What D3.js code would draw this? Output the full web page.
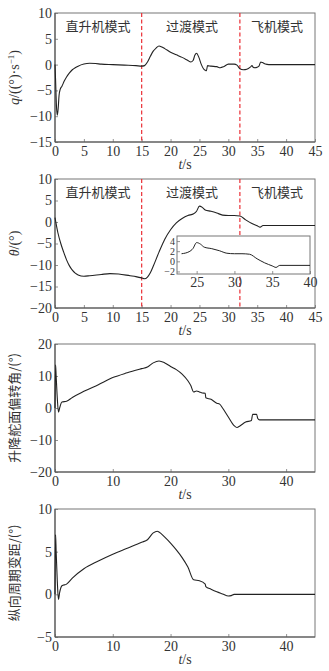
<!DOCTYPE html>
<html><head><meta charset="utf-8">
<script src="https://cdn.jsdelivr.net/npm/d3@7"></script>
<style>
html,body{margin:0;padding:0;background:#fff;}
svg{display:block;}
</style></head>
<body>
<svg id="c" width="329" height="671"></svg>
<script>
// ---- data ----
const modeLabels = ["直升机模式", "过渡模式", "飞机模式"];
const modeBounds = [15, 32];

const tQ = [0,0.1,0.25,0.4,0.55,0.7,0.9,1.2,1.6,2,2.5,3,3.5,4,5,6,7,8,10,12,14,15,15.5,16,16.5,17,17.5,18,18.5,19,20,21,22,23,23.5,23.9,24.2,24.5,24.9,25.3,25.7,26,26.2,26.4,27,28,28.6,29.2,30,31,31.5,32,32.6,33.2,33.8,34.1,34.3,34.6,35,35.3,35.6,35.9,36.4,37,38,45];
const qVals = [0,-3,-8,-9.8,-8.5,-6,-4.8,-4.2,-3.2,-2.4,-1.6,-1,-0.6,-0.3,0.1,0.25,0.2,0.1,0,-0.1,-0.2,-0.3,-0.2,0.5,1.6,2.6,3.2,3.6,3.4,3.1,2.4,1.9,1.4,0.8,0.5,0.8,1.8,2.2,1.4,0.1,-0.8,-1.1,-1.2,-0.2,-0.3,-0.4,-0.6,-0.4,0.1,0.1,-0.1,-0.8,-1,-0.9,-0.5,-0.2,-0.5,-0.6,-0.5,-0.3,0.5,0.4,0.1,0,0,0];

const tTheta = [0,0.5,1,1.5,2,2.5,3,3.5,4,5,6,8,9.5,11,13,14,15,15.5,16,16.5,17,18,19,20,21,22,23,24,24.5,25,25.5,26,27,28,29,30,31,32,33,34,35,35.5,36,40,45];
const thetaVals = [1,-2.5,-5,-7,-8.8,-10.2,-11.2,-11.9,-12.3,-12.6,-12.5,-12.2,-12,-12.1,-12.5,-12.7,-13,-13.2,-12.8,-11.8,-10.3,-7,-4,-1.8,-0.2,0.8,1.5,1.9,2.5,3.7,3.4,2.8,2.5,2.1,1.6,1.5,1.5,1.4,0.5,-0.3,-0.9,-1.2,-0.8,-0.8,-0.8];

const tElev = [0,0.1,0.2,0.4,0.6,0.8,1.2,2,3,5,7.5,10,12.5,15,16,17,18,19,20,21,22,23,23.5,24,24.5,25,25.5,26,26.1,27,28,28.5,29,30,31,31.5,32,33,34,34.2,34.9,35.1,35.4,36,45];
const elevVals = [0,13.5,10,3,-1.3,0,1.9,2.1,3.3,5.2,7.3,9.5,11,12.3,12.8,14.1,14.7,14.1,13,12,10.6,8.5,7,5,5.3,5,4.7,4.6,3.2,2.7,1.5,1.2,0,-2.8,-5.5,-6.1,-5.6,-4.4,-3.9,-2,-2,-3.3,-3.7,-3.7,-3.7];

const tCyc = [0,0.1,0.2,0.4,0.6,0.8,1.2,2,3,5,7.5,10,12.5,15,16,17,17.7,18,19,20,21,22,23,24,25,26,26.1,27,28,29,30,30.5,31,45];
const cycVals = [0,7,5,1.5,-0.6,0.2,1,1.2,1.9,3,3.9,4.7,5.4,6.1,6.4,7.2,7.4,7.3,6.7,6,5.2,4.3,3.2,1.7,1.6,1.2,0.9,0.6,0.3,0.05,-0.2,-0.15,0,0];

const xTicks5 = [0,5,10,15,20,25,30,35,40,45];
const xTicks10 = [0,10,20,30,40];
const insetXTicks = [25,30,35,40];
const insetYTicks = [-2,0,2,4];

// ---- drawing ----
const svg = d3.select("#c");
const L = 55, R = 315;
const numFont = "'Liberation Serif','Times New Roman',serif";
const cjkFont = "'Noto Sans CJK SC','Noto Sans',sans-serif";
const txtCol = "#333";

const panels = [
  {top:13, bot:142, dom:[-15,10], yt:[-15,-10,-5,0,5,10], xt:xTicks5, t:tQ, v:qVals, modes:true, ylab:"q"},
  {top:179, bot:308, dom:[-20,10], yt:[-20,-15,-10,-5,0,5,10], xt:xTicks5, t:tTheta, v:thetaVals, modes:true, ylab:"theta", inset:true},
  {top:344, bot:472, dom:[-20,20], yt:[-20,-10,0,10,20], xt:xTicks10, t:tElev, v:elevVals, ylab:"升降舵面偏转角/(°)"},
  {top:509, bot:637, dom:[-5,10], yt:[-5,0,5,10], xt:xTicks10, t:tCyc, v:cycVals, ylab:"纵向周期变距/(°)"}
];

function minusFmt(d){ return d < 0 ? "\u2212" + Math.abs(d) : String(d); }

panels.forEach(p => {
  const x = d3.scaleLinear().domain([0,45]).range([L,R]);
  const y = d3.scaleLinear().domain(p.dom).range([p.bot,p.top]);
  const g = svg.append("g");

  const ax = g.append("g").attr("transform",`translate(0,${p.bot})`)
    .call(d3.axisBottom(x).tickValues(p.xt).tickSizeInner(-3).tickSizeOuter(0).tickPadding(4).tickFormat(minusFmt));
  const ay = g.append("g").attr("transform",`translate(${L},0)`)
    .call(d3.axisLeft(y).tickValues(p.yt).tickSizeInner(-3).tickSizeOuter(0).tickPadding(3).tickFormat(minusFmt));
  [ax,ay].forEach(a=>{
    a.select(".domain").remove();
    a.selectAll(".tick line").attr("stroke","#777").attr("stroke-width",0.8);
    a.selectAll(".tick text").attr("fill",txtCol).style("font-family",numFont).style("font-size","14px");
  });
  ax.selectAll(".tick text").attr("dy","0.72em");

  g.append("rect").attr("x",L).attr("y",p.top).attr("width",R-L).attr("height",p.bot-p.top)
    .attr("fill","none").attr("stroke","#777").attr("stroke-width",1);
  g.append("line").attr("x1",L).attr("x2",L).attr("y1",p.top).attr("y2",p.bot).attr("stroke","#555").attr("stroke-width",1.1);
  g.append("line").attr("x1",L).attr("x2",R).attr("y1",p.bot).attr("y2",p.bot).attr("stroke","#555").attr("stroke-width",1.1);

  if (p.modes) {
    modeBounds.forEach(b=>{
      g.append("line").attr("x1",x(b)).attr("x2",x(b)).attr("y1",p.top).attr("y2",p.bot)
        .attr("stroke","#ea2f36").attr("stroke-width",1.2).attr("stroke-dasharray","4,2.5");
    });
    const centers = [98, 192, 277];
    modeLabels.forEach((m,i)=>{
      g.append("text").attr("x",centers[i]).attr("y",p.top+12).attr("text-anchor","middle")
        .attr("dominant-baseline","central").attr("fill",txtCol)
        .style("font-family",cjkFont).style("font-size","13px").text(m);
    });
  }

  const data = p.t.map((t,i)=>[t,p.v[i]]);
  g.append("path").datum(data).attr("fill","none").attr("stroke","#222").attr("stroke-width",1.1)
    .attr("d", d3.line().x(d=>x(d[0])).y(d=>y(d[1])).curve(d3.curveMonotoneX));

  if (p.inset) {
    const iL=177, iR=310, iT=236, iB=274;
    const xi = d3.scaleLinear().domain([22.4,40]).range([iL,iR]);
    const yi = d3.scaleLinear().domain([-2.5,5]).range([iB,iT]);
    g.append("rect").attr("x",iL).attr("y",iT).attr("width",iR-iL).attr("height",iB-iT)
      .attr("fill","#fff").attr("stroke","#777").attr("stroke-width",1);
    const ix = g.append("g").attr("transform",`translate(0,${iB})`)
      .call(d3.axisBottom(xi).tickValues(insetXTicks).tickSizeInner(-3).tickSizeOuter(0).tickPadding(3));
    const iy = g.append("g").attr("transform",`translate(${iL},0)`)
      .call(d3.axisLeft(yi).tickValues(insetYTicks).tickSizeInner(-3).tickSizeOuter(0).tickPadding(2).tickFormat(minusFmt));
    [ix,iy].forEach(a=>{
      a.select(".domain").remove();
      a.selectAll(".tick line").attr("stroke","#777").attr("stroke-width",0.8);
      a.selectAll(".tick text").attr("fill",txtCol).style("font-family",numFont);
    });
    ix.selectAll(".tick text").style("font-size","14px").attr("dy","0.72em");
    iy.selectAll(".tick text").style("font-size","10px");
    const idata = data.filter(d=>d[0]>=22.4 && d[0]<=40);
    g.append("path").datum(idata).attr("fill","none").attr("stroke","#222").attr("stroke-width",1)
      .attr("d", d3.line().x(d=>xi(d[0])).y(d=>yi(d[1])).curve(d3.curveMonotoneX));
  }

  const xl = g.append("text").attr("x",(L+R)/2).attr("y",p.bot+27).attr("text-anchor","middle")
    .attr("fill",txtCol).style("font-family",numFont).style("font-size","14px");
  xl.append("tspan").style("font-style","italic").text("t");
  xl.append("tspan").text("/s");

  const yl = g.append("text").attr("transform",`translate(19,${(p.top+p.bot)/2}) rotate(-90)`)
    .attr("text-anchor","middle").attr("fill",txtCol);
  if (p.ylab === "q") {
    yl.style("font-family",numFont).style("font-size","14px");
    yl.append("tspan").style("font-style","italic").text("q");
    yl.append("tspan").text("/((°)·s");
    yl.append("tspan").attr("dy","-5").style("font-size","9px").text("\u22121");
    yl.append("tspan").attr("dy","5").text(")");
  } else if (p.ylab === "theta") {
    yl.style("font-family",numFont).style("font-size","14px");
    yl.append("tspan").style("font-style","italic").text("θ");
    yl.append("tspan").text("/(°)");
  } else {
    yl.style("font-family",cjkFont).style("font-size","13px").text(p.ylab);
  }
});
</script>
</body></html>
